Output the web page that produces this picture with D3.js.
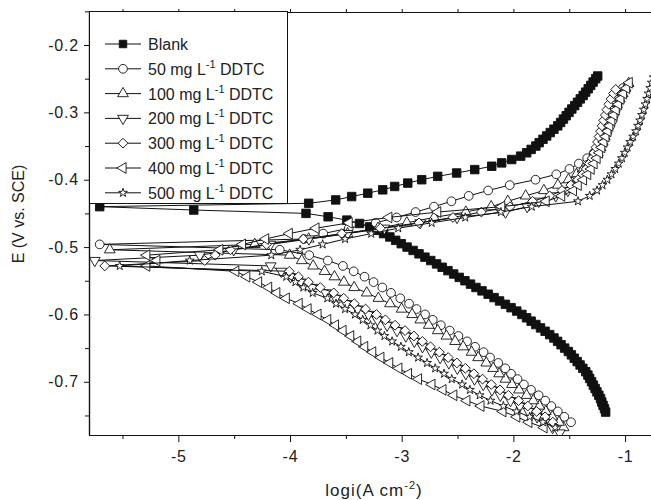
<!DOCTYPE html>
<html>
<head>
<meta charset="utf-8">
<script src="https://cdn.jsdelivr.net/npm/d3@7"></script>
<style>
body { margin: 0; background: #fff; }
text { font-family: "Liberation Sans", Arial, sans-serif; fill: #222; }
</style>
</head>
<body>
<script>
// [log i, E] pairs, scan goes from cathodic end up through Ecorr to anodic end
var blank = [[-1.174,-0.745],[-1.184,-0.74],[-1.197,-0.735],[-1.209,-0.73],[-1.220,-0.725],[-1.235,-0.72],[-1.252,-0.715],[-1.268,-0.71],[-1.284,-0.705],[-1.300,-0.70],[-1.317,-0.695],[-1.333,-0.69],[-1.352,-0.685],[-1.378,-0.68],[-1.403,-0.675],[-1.429,-0.67],[-1.455,-0.665],[-1.481,-0.66],[-1.508,-0.655],[-1.541,-0.65],[-1.573,-0.645],[-1.604,-0.64],[-1.637,-0.635],[-1.675,-0.63],[-1.716,-0.625],[-1.757,-0.62],[-1.799,-0.615],[-1.841,-0.61],[-1.882,-0.605],[-1.924,-0.60],[-1.970,-0.595],[-2.021,-0.59],[-2.072,-0.585],[-2.124,-0.58],[-2.173,-0.575],[-2.226,-0.57],[-2.281,-0.565],[-2.335,-0.56],[-2.384,-0.555],[-2.434,-0.55],[-2.485,-0.545],[-2.535,-0.54],[-2.586,-0.535],[-2.638,-0.53],[-2.688,-0.525],[-2.740,-0.52],[-2.792,-0.515],[-2.845,-0.51],[-2.898,-0.505],[-2.952,-0.50],[-3.004,-0.495],[-3.054,-0.49],[-3.106,-0.485],[-3.163,-0.48],[-3.219,-0.475],[-3.286,-0.47],[-3.378,-0.465],[-3.491,-0.46],[-3.659,-0.455],[-3.857,-0.45],
  [-4.862,-0.445],[-5.704,-0.44],
  [-3.833,-0.435],[-3.591,-0.43],[-3.448,-0.425],[-3.304,-0.42],[-3.170,-0.415],[-3.063,-0.41],[-2.946,-0.405],[-2.821,-0.40],[-2.678,-0.395],[-2.508,-0.39],[-2.346,-0.385],[-2.194,-0.38],[-2.105,-0.375],[-2.015,-0.37],[-1.935,-0.365],[-1.881,-0.36],[-1.841,-0.355],[-1.799,-0.35],[-1.769,-0.345],[-1.735,-0.34],[-1.702,-0.335],[-1.670,-0.33],[-1.637,-0.325],[-1.603,-0.32],[-1.577,-0.315],[-1.552,-0.31],[-1.527,-0.305],[-1.502,-0.30],[-1.477,-0.295],[-1.451,-0.29],[-1.426,-0.285],[-1.401,-0.28],[-1.375,-0.275],[-1.353,-0.27],[-1.330,-0.265],[-1.308,-0.26],[-1.286,-0.255],[-1.263,-0.25],[-1.245,-0.246]];

var ddtc50 = [[-1.484,-0.760],[-1.544,-0.752],[-1.602,-0.744],[-1.660,-0.736],[-1.715,-0.728],[-1.774,-0.720],[-1.842,-0.712],[-1.906,-0.704],[-1.963,-0.696],[-2.021,-0.688],[-2.073,-0.680],[-2.135,-0.672],[-2.209,-0.664],[-2.267,-0.656],[-2.343,-0.648],[-2.415,-0.640],[-2.492,-0.632],[-2.570,-0.624],[-2.650,-0.616],[-2.722,-0.608],[-2.791,-0.600],[-2.867,-0.592],[-2.934,-0.584],[-3.013,-0.576],[-3.096,-0.568],[-3.173,-0.560],[-3.252,-0.552],[-3.333,-0.544],[-3.430,-0.536],[-3.526,-0.528],[-3.662,-0.520],[-3.828,-0.512],[-4.092,-0.504],
  [-5.704,-0.496],
  [-3.876,-0.488],[-3.703,-0.480],[-3.474,-0.472],[-3.233,-0.464],[-3.045,-0.456],[-2.876,-0.448],[-2.711,-0.440],[-2.555,-0.432],[-2.400,-0.424],[-2.226,-0.416],[-2.033,-0.408],[-1.802,-0.400],[-1.616,-0.392],[-1.498,-0.384],[-1.414,-0.376],[-1.339,-0.368],[-1.279,-0.360],[-1.240,-0.352],[-1.212,-0.344],[-1.184,-0.336],[-1.157,-0.328],[-1.133,-0.320],[-1.112,-0.312],[-1.099,-0.304],[-1.083,-0.296],[-1.067,-0.288],[-1.051,-0.280],[-1.033,-0.272],[-1.019,-0.264]];

var ddtc100 = [[-1.550,-0.768],[-1.592,-0.760],[-1.652,-0.752],[-1.710,-0.744],[-1.767,-0.736],[-1.823,-0.728],[-1.882,-0.720],[-1.950,-0.712],[-2.013,-0.704],[-2.071,-0.696],[-2.128,-0.688],[-2.181,-0.680],[-2.243,-0.672],[-2.316,-0.664],[-2.374,-0.656],[-2.450,-0.648],[-2.522,-0.640],[-2.600,-0.632],[-2.678,-0.624],[-2.758,-0.616],[-2.834,-0.608],[-2.907,-0.600],[-3.001,-0.592],[-3.105,-0.584],[-3.209,-0.576],[-3.313,-0.568],[-3.426,-0.560],[-3.518,-0.552],[-3.602,-0.544],[-3.691,-0.536],[-3.793,-0.528],[-3.895,-0.520],[-4.003,-0.512],
  [-5.614,-0.504],
  [-4.316,-0.496],[-3.833,-0.488],[-3.485,-0.480],[-3.212,-0.472],[-2.954,-0.464],[-2.710,-0.456],[-2.426,-0.448],[-2.199,-0.440],[-2.050,-0.432],[-1.890,-0.424],[-1.727,-0.416],[-1.602,-0.408],[-1.507,-0.400],[-1.435,-0.392],[-1.375,-0.384],[-1.322,-0.376],[-1.278,-0.368],[-1.244,-0.360],[-1.220,-0.352],[-1.200,-0.344],[-1.182,-0.336],[-1.171,-0.328],[-1.157,-0.320],[-1.140,-0.312],[-1.118,-0.304],[-1.096,-0.296],[-1.072,-0.288],[-1.047,-0.280],[-1.022,-0.272],[-0.995,-0.264],[-0.968,-0.257]];

var ddtc200 = [[-1.585,-0.776],[-1.649,-0.768],[-1.719,-0.760],[-1.788,-0.752],[-1.864,-0.744],[-1.943,-0.736],[-2.026,-0.728],[-2.117,-0.720],[-2.192,-0.712],[-2.270,-0.704],[-2.348,-0.696],[-2.426,-0.688],[-2.502,-0.680],[-2.578,-0.672],[-2.656,-0.664],[-2.735,-0.656],[-2.814,-0.648],[-2.887,-0.640],[-2.963,-0.632],[-3.042,-0.624],[-3.131,-0.616],[-3.218,-0.608],[-3.298,-0.600],[-3.396,-0.592],[-3.496,-0.584],[-3.591,-0.576],[-3.681,-0.568],[-3.801,-0.560],[-3.907,-0.552],[-3.997,-0.544],[-4.079,-0.536],[-4.173,-0.528],
  [-5.748,-0.520],
  [-4.808,-0.512],[-4.504,-0.504],[-4.175,-0.496],[-3.831,-0.488],[-3.485,-0.480],[-3.155,-0.472],[-2.834,-0.464],[-2.505,-0.456],[-2.070,-0.448],[-1.877,-0.440],[-1.773,-0.432],[-1.621,-0.424],[-1.512,-0.416],[-1.469,-0.408],[-1.423,-0.400],[-1.379,-0.392],[-1.340,-0.384],[-1.305,-0.376],[-1.276,-0.368],[-1.249,-0.360],[-1.225,-0.352],[-1.204,-0.344],[-1.184,-0.336],[-1.164,-0.328],[-1.146,-0.320],[-1.128,-0.312],[-1.110,-0.304],[-1.093,-0.296],[-1.074,-0.288],[-1.055,-0.280]];

var ddtc300 = [[-1.647,-0.760],[-1.716,-0.752],[-1.792,-0.744],[-1.871,-0.736],[-1.954,-0.728],[-2.045,-0.720],[-2.120,-0.712],[-2.198,-0.704],[-2.276,-0.696],[-2.354,-0.688],[-2.430,-0.680],[-2.506,-0.672],[-2.584,-0.664],[-2.663,-0.656],[-2.742,-0.648],[-2.815,-0.640],[-2.891,-0.632],[-2.970,-0.624],[-3.059,-0.616],[-3.146,-0.608],[-3.226,-0.600],[-3.324,-0.592],[-3.424,-0.584],[-3.519,-0.576],[-3.609,-0.568],[-3.729,-0.560],[-3.835,-0.552],[-3.925,-0.544],[-4.007,-0.536],
  [-5.659,-0.528],
  [-4.764,-0.520],[-4.670,-0.512],[-4.534,-0.504],[-4.211,-0.496],[-3.881,-0.488],[-3.536,-0.480],[-3.191,-0.472],[-2.845,-0.464],[-2.541,-0.456],[-2.287,-0.448],[-2.030,-0.440],[-1.828,-0.432],[-1.675,-0.424],[-1.565,-0.416],[-1.486,-0.408],[-1.423,-0.400],[-1.381,-0.392],[-1.348,-0.384],[-1.320,-0.376],[-1.295,-0.368],[-1.278,-0.360],[-1.261,-0.352],[-1.247,-0.344],[-1.233,-0.336],[-1.220,-0.328],[-1.207,-0.320],[-1.192,-0.312],[-1.177,-0.304],[-1.163,-0.296],[-1.146,-0.288],[-1.127,-0.280],[-1.104,-0.272],[-1.084,-0.266]];

var ddtc400 = [[-1.726,-0.768],[-1.862,-0.760],[-1.970,-0.752],[-2.094,-0.744],[-2.291,-0.736],[-2.417,-0.728],[-2.534,-0.720],[-2.631,-0.712],[-2.730,-0.704],[-2.850,-0.696],[-2.940,-0.688],[-3.026,-0.680],[-3.108,-0.672],[-3.187,-0.664],[-3.260,-0.656],[-3.332,-0.648],[-3.394,-0.640],[-3.457,-0.632],[-3.526,-0.624],[-3.594,-0.616],[-3.663,-0.608],[-3.750,-0.600],[-3.839,-0.592],[-3.919,-0.584],[-4.034,-0.576],[-4.119,-0.568],[-4.192,-0.560],[-4.282,-0.552],[-4.388,-0.544],[-4.486,-0.536],
  [-5.283,-0.528],[-5.193,-0.520],[-5.283,-0.512],
  [-4.629,-0.504],[-4.426,-0.496],[-4.219,-0.488],[-4.007,-0.480],[-3.768,-0.472],[-3.471,-0.464],[-3.116,-0.456],[-2.678,-0.448],[-2.105,-0.440],[-1.707,-0.432],[-1.568,-0.424],[-1.463,-0.416],[-1.420,-0.408],[-1.373,-0.400],[-1.335,-0.392],[-1.304,-0.384],[-1.278,-0.376],[-1.251,-0.368],[-1.229,-0.360],[-1.209,-0.352],[-1.190,-0.344],[-1.172,-0.336],[-1.154,-0.328],[-1.137,-0.320],[-1.119,-0.312],[-1.100,-0.304],[-1.080,-0.296],[-1.059,-0.288],[-1.038,-0.280],[-1.014,-0.272],[-0.987,-0.264],[-0.963,-0.256]];

var ddtc500 = [[-1.626,-0.768],[-1.736,-0.760],[-1.854,-0.752],[-1.972,-0.744],[-2.090,-0.736],[-2.205,-0.728],[-2.302,-0.720],[-2.389,-0.712],[-2.459,-0.704],[-2.552,-0.696],[-2.621,-0.688],[-2.700,-0.680],[-2.773,-0.672],[-2.853,-0.664],[-2.936,-0.656],[-3.007,-0.648],[-3.086,-0.640],[-3.155,-0.632],[-3.217,-0.624],[-3.280,-0.616],[-3.349,-0.608],[-3.418,-0.600],[-3.507,-0.592],[-3.588,-0.584],[-3.666,-0.576],[-3.797,-0.568],[-3.881,-0.560],[-3.952,-0.552],[-4.034,-0.544],[-4.253,-0.536],
  [-5.525,-0.528],
  [-4.898,-0.520],[-4.168,-0.512],[-3.910,-0.504],[-3.708,-0.496],[-3.507,-0.488],[-3.273,-0.480],[-3.031,-0.472],[-2.732,-0.464],[-2.431,-0.456],[-2.112,-0.448],[-1.836,-0.440],[-1.422,-0.432],[-1.317,-0.424],[-1.251,-0.416],[-1.202,-0.408],[-1.159,-0.400],[-1.122,-0.392],[-1.088,-0.384],[-1.057,-0.376],[-1.028,-0.368],[-1.003,-0.360],[-0.978,-0.352],[-0.954,-0.344],[-0.928,-0.336],[-0.902,-0.328],[-0.884,-0.320],[-0.866,-0.312],[-0.849,-0.304],[-0.833,-0.296],[-0.818,-0.288],[-0.803,-0.280],[-0.789,-0.272],[-0.775,-0.264],[-0.761,-0.256],[-0.744,-0.248]];

var concentrations = ["Blank", "50", "100", "200", "300", "400", "500"];
var xTicks = [-5, -4, -3, -2, -1];
var xMinor = [-5.5, -4.5, -3.5, -2.5, -1.5];
var yTicks = [-0.7, -0.6, -0.5, -0.4, -0.3, -0.2];
var yMinor = [-0.75, -0.65, -0.55, -0.45, -0.35, -0.25, -0.15];

function plot_it () {
    var width = 651, height = 500;
    var svg = d3.select('body').append('svg').attr('width', width).attr('height', height);

    var left = 89, right = 653, top = 12, bottom = 435;
    var x = d3.scaleLinear().domain([-5.8, -0.75]).range([left, right]);
    var y = d3.scaleLinear().domain([-0.779, -0.151]).range([bottom, top]);

    svg.append('defs').append('clipPath').attr('id', 'plotclip')
        .append('rect').attr('x', left).attr('y', top).attr('width', right - left).attr('height', bottom - top);

    // marker style per series, same order as concentrations
    var styles = [
        {data: blank, type: d3.symbolSquare, size: 72, rot: 0, fill: '#111'},
        {data: ddtc50, type: d3.symbolCircle, size: 60, rot: 0, fill: '#fff'},
        {data: ddtc100, type: d3.symbolTriangle, size: 50, rot: 0, fill: '#fff'},
        {data: ddtc200, type: d3.symbolTriangle, size: 50, rot: 180, fill: '#fff'},
        {data: ddtc300, type: d3.symbolSquare, size: 48, rot: 45, fill: '#fff'},
        {data: ddtc400, type: d3.symbolTriangle, size: 50, rot: -90, fill: '#fff'},
        {data: ddtc500, type: d3.symbolStar, size: 24, rot: 0, fill: '#fff'}
    ];

    var line = d3.line()
        .x(function (d) { return x(d[0]); })
        .y(function (d) { return y(d[1]); });

    var plot = svg.append('g').attr('clip-path', 'url(#plotclip)');

    styles.forEach(function (s) {
        var g = plot.append('g');
        g.append('path')
            .attr('d', line(s.data))
            .attr('fill', 'none')
            .attr('stroke', '#111')
            .attr('stroke-width', 1);
        g.selectAll('path.pt')
            .data(s.data)
            .enter().append('path')
            .attr('class', 'pt')
            .attr('d', d3.symbol().type(s.type).size(s.size))
            .attr('transform', function (d) {
                return 'translate(' + x(d[0]) + ',' + y(d[1]) + ') rotate(' + s.rot + ')';
            })
            .attr('fill', s.fill)
            .attr('stroke', '#111')
            .attr('stroke-width', 0.9);
    });

    // axes
    var fmtX = function (d) { return String(d); };
    var fmtY = function (d) { return d.toFixed(1); };

    var gx = svg.append('g').attr('transform', 'translate(0,' + bottom + ')');
    gx.call(d3.axisBottom(x).tickValues(xTicks).tickSize(7).tickPadding(9).tickSizeOuter(0).tickFormat(fmtX));
    gx.append('g').call(d3.axisBottom(x).tickValues(xMinor).tickSize(4).tickSizeOuter(0).tickFormat(''));

    var gt = svg.append('g').attr('transform', 'translate(0,' + top + ')');
    gt.call(d3.axisTop(x).tickValues(xTicks.concat(xMinor)).tickSize(3).tickSizeOuter(0).tickFormat(''));

    var gy = svg.append('g').attr('transform', 'translate(' + left + ',0)');
    gy.call(d3.axisLeft(y).tickValues(yTicks).tickSize(5).tickPadding(5).tickSizeOuter(0).tickFormat(fmtY));
    gy.append('g').call(d3.axisLeft(y).tickValues(yMinor).tickSize(4).tickSizeOuter(0).tickFormat(''));

    svg.selectAll('.domain').attr('stroke', '#111').attr('stroke-width', 1.2);
    svg.selectAll('.tick line').attr('stroke', '#111');
    svg.selectAll('.tick text')
        .attr('font-size', 16)
        .attr('letter-spacing', 0.8)
        .attr('font-family', '"Liberation Sans", Arial, sans-serif')
        .attr('fill', '#222');

    // axis titles
    svg.append('text')
        .attr('transform', 'translate(24,214) rotate(-90)')
        .attr('text-anchor', 'middle')
        .attr('font-size', 16)
        .text('E (V vs. SCE)');

    var xt = svg.append('text')
        .attr('x', 374).attr('y', 496)
        .attr('text-anchor', 'middle')
        .attr('font-size', 17)
        .attr('letter-spacing', 1);
    xt.append('tspan').text('logi(A cm');
    xt.append('tspan').attr('dy', -7).attr('font-size', 11).text('-2');
    xt.append('tspan').attr('dy', 7).text(')');

    // legend
    var legend = svg.append('g');
    legend.append('rect')
        .attr('x', left + 0.5).attr('y', 11.5)
        .attr('width', 198).attr('height', 192)
        .attr('fill', '#fff').attr('stroke', '#111').attr('stroke-width', 1);

    concentrations.forEach(function (c, i) {
        var s = styles[i];
        var ly = 44 + i * 24.8;
        legend.append('line')
            .attr('x1', 105).attr('x2', 141).attr('y1', ly).attr('y2', ly)
            .attr('stroke', '#111').attr('stroke-width', 1);
        legend.append('path')
            .attr('d', d3.symbol().type(s.type).size(i === 0 ? 56 : s.size))
            .attr('transform', 'translate(123,' + ly + ') rotate(' + s.rot + ')')
            .attr('fill', s.fill).attr('stroke', '#111').attr('stroke-width', 0.9);
        var t = legend.append('text')
            .attr('x', 148).attr('y', ly + 6)
            .attr('font-size', 16);
        if (c === 'Blank') {
            t.text(c);
        } else {
            t.append('tspan').text(c + ' mg L');
            t.append('tspan').attr('dy', -7).attr('font-size', 11).text('-1');
            t.append('tspan').attr('dy', 7).text(' DDTC');
        }
    });
}

plot_it();
</script>
</body>
</html>
